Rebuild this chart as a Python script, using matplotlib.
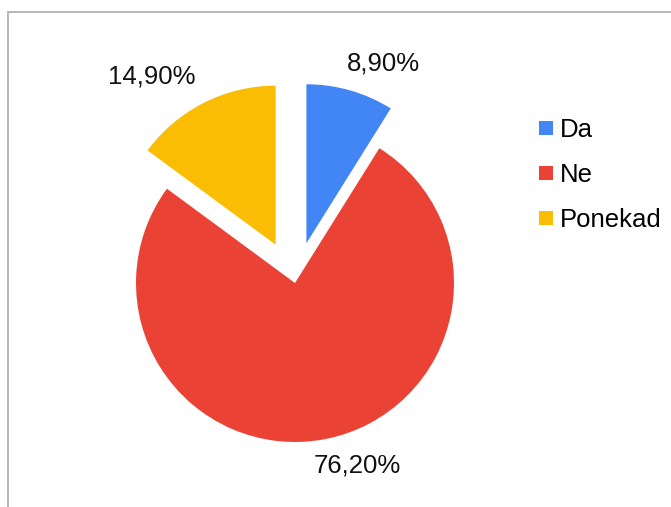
import matplotlib
matplotlib.use("Agg")
import matplotlib.pyplot as plt
from matplotlib.patches import Rectangle
from matplotlib.lines import Line2D

plt.rcParams['font.family'] = ['Liberation Sans', 'DejaVu Sans']

# data
categories = ['Da', 'Ne', 'Ponekad']
shares = [8.9, 76.2, 14.9]
colors = ['#4285F4', '#EA4335', '#FBBC04']
explode = [0.26, 0, 0.27]

W, H = 671, 507
fig = plt.figure(figsize=(W / 100, H / 100), dpi=100)

# pie centre at (295, 283) px from top-left, radius 159 px
R = 159
cx, cy = 295, H - 283
half = 260
ax = fig.add_axes([(cx - half) / W, (cy - half) / H, 2 * half / W, 2 * half / H])

wedges, _ = ax.pie(shares, colors=colors, explode=explode, startangle=90,
                   counterclock=False, radius=1,
                   wedgeprops=dict(linewidth=0))
# pie() sets its own limits, so override afterwards
ax.set_xlim(-half / R, half / R)
ax.set_ylim(-half / R, half / R)
ax.set_aspect('equal')
ax.axis('off')

# percentage labels (pixel offsets from pie centre)
label_pos = [(88, 220), (62, -183), (-143, 207)]
for val, (dx, dy) in zip(shares, label_pos):
    txt = f"{val:.2f}%".replace('.', ',')
    ax.text(dx / R, dy / R, txt, ha='center', va='center', fontsize=18.5,
            color='#111111')

# legend
handles = [Line2D([], [], linestyle='none', marker='s', markersize=9.5,
                  markerfacecolor=c, markeredgewidth=0) for c in colors]
fig.legend(handles, categories, loc='upper left',
           bbox_to_anchor=(537 / W, 1 - 118 / H), frameon=False,
           fontsize=18.5, handlelength=0.7, handletextpad=0.2,
           labelspacing=0.82, borderpad=0, borderaxespad=0)

# outer frame (cut by the image on the right and bottom)
fig.patches.append(Rectangle((8 / W, -0.1), 1.2, 1 - 12 / H + 0.1,
                             transform=fig.transFigure, fill=False,
                             edgecolor='#aaaaaa', linewidth=1.2))

fig.savefig('out.png', dpi=100)
